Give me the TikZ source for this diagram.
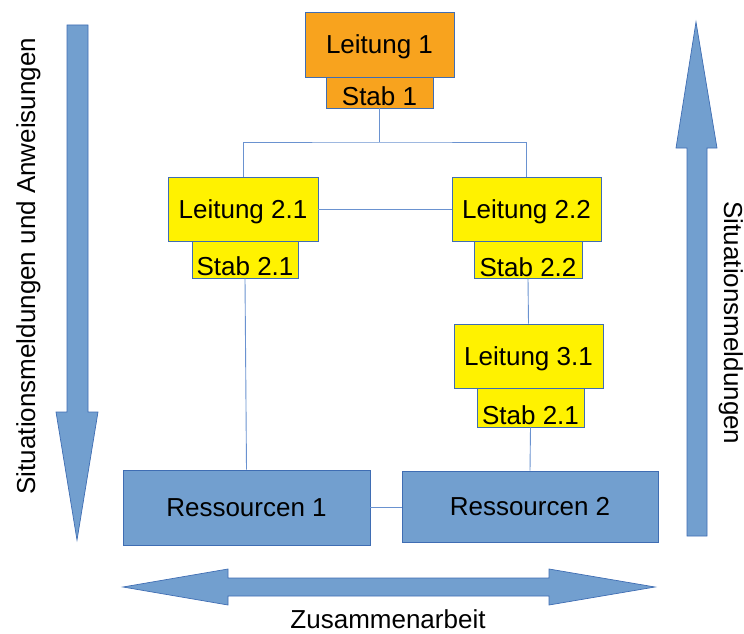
\documentclass[tikz,border=0pt]{standalone}
\usepackage{fontspec}
\setmainfont{Liberation Sans}
\usetikzlibrary{calc}

\definecolor{lead}{HTML}{F8A31E}
\definecolor{sub}{HTML}{FFF200}
\definecolor{res}{HTML}{729FCF}
\definecolor{rim}{HTML}{3F6DB3}
\definecolor{wire}{HTML}{6A92D0}

\tikzset{
  box/.style={draw=rim, line width=0.8pt, inner sep=0pt, text height=18.6pt, text depth=0pt,
    font=\fontsize{26}{31}\selectfont},
  lead1/.style={box, fill=lead},
  lead2/.style={box, fill=sub},
  staff/.style={box},
  resbox/.style={box, fill=res},
  link/.style={draw=wire, line width=0.9pt},
  fatarrow/.style={fill=res, draw=rim, line width=0.7pt, line join=miter},
  caption/.style={font=\fontsize{26}{31}\selectfont, inner sep=0pt, text height=18.6pt, text depth=5.5pt}
}

\begin{document}
\begin{tikzpicture}[x=1pt, y=-1pt]
\useasboundingbox (0,0) rectangle (744,634);

% top level
\node[lead1, minimum width=149pt, minimum height=65pt] (l1) at (379.5,44.5) {Leitung 1};
\node[staff, fill=lead, minimum width=107pt, minimum height=31pt, text height=26pt] (s1) at (379.5,92.5) {Stab 1};

% second level
\node[lead2, minimum width=150pt, minimum height=64pt] (l21) at (243,209) {Leitung 2.1};
\node[staff, fill=sub, minimum width=106pt, minimum height=37pt, text height=31pt] (s21) at (245,259.5) {Stab 2.1};
\node[lead2, minimum width=149pt, minimum height=64pt] (l22) at (526.5,209) {Leitung 2.2};
\node[staff, fill=sub, minimum width=108pt, minimum height=37pt, text height=33pt] (s22) at (528,259.5) {Stab 2.2};

% third level
\node[lead2, minimum width=149pt, minimum height=64pt] (l31) at (528.5,356) {Leitung 3.1};
\node[staff, fill=sub, minimum width=107pt, minimum height=39pt, text height=33pt] (s31) at (530.5,407.5) {Stab 2.1};

% resources
\node[resbox, minimum width=247pt, minimum height=75pt] (r1) at (246.5,507.5) {Ressourcen 1};
\node[resbox, minimum width=256pt, minimum height=71pt] (r2) at (530,506.5) {Ressourcen 2};

% connectors
\coordinate (bus) at (379.5,142);
\draw[link] (s1.south) -- (bus);
\draw[link] (l21.north) |- (bus) -| (l22.north);
\draw[link] (l21.east) -- (l22.west);
\draw[link] (s21.south) -- (r1.north);
\draw[link] (s22.south) -- (l31.north);
\draw[link] (s31.south) -- (r2.north);
\draw[link] (r1.east) -- (r1.east -| r2.west);

% downward arrow
\draw[fatarrow] (67,25) -- (88,25) -- (88,412) -- (98,412) -- (77,540) -- (56,412) -- (67,412) -- cycle;
\node[caption, rotate=90, anchor=base] (down) at (35,266) {Situationsmeldungen und Anweisungen};

% upward arrow
\draw[fatarrow] (687,536) -- (707,536) -- (707,148) -- (717,148) -- (696,22) -- (676,148) -- (687,148) -- cycle;
\node[caption, rotate=-90, anchor=base] (up) at (724,323) {Situationsmeldungen};

% two-way arrow
\draw[fatarrow] (123,587) -- (228,569) -- (228,578) -- (549,578) -- (549,569) -- (655,587)
  -- (549,605) -- (549,596) -- (228,596) -- (228,605) -- cycle;
\node[caption, anchor=base] (both) at (388,628) {Zusammenarbeit};
\end{tikzpicture}
\end{document}
